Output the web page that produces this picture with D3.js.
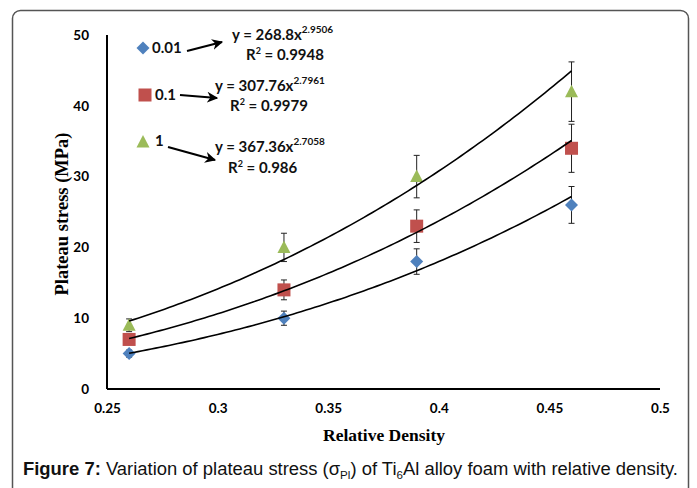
<!DOCTYPE html>
<html>
<head>
<meta charset="utf-8">
<script src="https://cdn.jsdelivr.net/npm/d3@7"></script>
<style>
  html, body { margin: 0; padding: 0; background: #fff; }
  svg { display: block; }
</style>
</head>
<body>
<svg id="chart" width="697" height="488"></svg>
<script>
// ---- data ----
const density = [0.26, 0.33, 0.39, 0.46];
const seriesNames = ["0.01", "0.1", "1"];
const stress001 = [5, 10, 18, 26];
const stress01 = [7, 14, 23, 34];
const stress1 = [9, 20, 30, 42];
const err001 = [0.5, 1.0, 1.8, 2.6];
const err01 = [0.7, 1.4, 2.3, 3.4];
const err1 = [0.9, 2.0, 3.0, 4.2];
const fitA = [268.8, 307.76, 367.36];
const fitB = [2.9506, 2.7961, 2.7058];
const fitAText = ["268.8", "307.76", "367.36"];
const fitBText = ["2.9506", "2.7961", "2.7058"];
const r2Text = ["0.9948", "0.9979", "0.986"];
const xTicks = [0.25, 0.3, 0.35, 0.4, 0.45, 0.5];
const xTickLabels = ["0.25", "0.3", "0.35", "0.4", "0.45", "0.5"];
const yTicks = [0, 10, 20, 30, 40, 50];
const colors = ["#4F81BD", "#C0504D", "#9BBB59"];

const values = [stress001, stress01, stress1];
const errors = [err001, err01, err1];

const svg = d3.select("#chart");
svg.append("rect").attr("width", 697).attr("height", 488).attr("fill", "#fff");

// outer frame
svg.append("rect")
  .attr("x", 12.5).attr("y", 10.5).attr("width", 676).attr("height", 520)
  .attr("rx", 8).attr("fill", "none").attr("stroke", "#555").attr("stroke-width", 1.5);

const x = d3.scaleLinear().domain([0.25, 0.5]).range([107, 660]);
const y = d3.scaleLinear().domain([0, 50]).range([389, 35]);

const tickFont = "Lato, 'Open Sans', sans-serif";

// axes
const xAxis = d3.axisBottom(x).tickValues(xTicks).tickFormat((d, i) => xTickLabels[i]).tickSize(0).tickPadding(14);
const gx = svg.append("g").attr("transform", "translate(0,389)").call(xAxis);
gx.select(".domain").attr("stroke", "#000").attr("stroke-width", 2).attr("d", "M107,0H660");
gx.selectAll("text").attr("font-family", tickFont).attr("font-weight", "bold").attr("font-size", 13.5).attr("fill", "#000");

const yAxis = d3.axisLeft(y).tickValues(yTicks).tickFormat(d3.format("d")).tickSize(0).tickPadding(18);
const gy = svg.append("g").attr("transform", "translate(107,0)").call(yAxis);
gy.select(".domain").attr("stroke", "#000").attr("stroke-width", 2).attr("d", "M0,35V389");
gy.selectAll("text").attr("font-family", tickFont).attr("font-weight", "bold").attr("font-size", 13.5).attr("fill", "#000");

// axis titles
svg.append("text")
  .attr("x", 384).attr("y", 441).attr("text-anchor", "middle")
  .attr("font-family", "'Liberation Serif', 'Times New Roman', serif").attr("font-weight", "bold").attr("font-size", 17.5)
  .text("Relative Density");
svg.append("text")
  .attr("transform", "translate(68,214) rotate(-90)").attr("text-anchor", "middle")
  .attr("font-family", "'Liberation Serif', 'Times New Roman', serif").attr("font-weight", "bold").attr("font-size", 18.5)
  .text("Plateau stress (MPa)");

const plot = svg.append("g");

// error bars
values.forEach((vals, s) => {
  const g = plot.append("g").attr("stroke", "#222").attr("stroke-width", 1);
  vals.forEach((v, i) => {
    const cx = x(density[i]);
    const e = errors[s][i];
    g.append("line").attr("x1", cx).attr("x2", cx).attr("y1", y(v - e)).attr("y2", y(v + e));
    g.append("line").attr("x1", cx - 3).attr("x2", cx + 3).attr("y1", y(v - e)).attr("y2", y(v - e));
    g.append("line").attr("x1", cx - 3).attr("x2", cx + 3).attr("y1", y(v + e)).attr("y2", y(v + e));
  });
});

// markers
function drawMarker(g, s, cx, cy) {
  if (s === 0) {
    g.append("path").attr("d", `M${cx},${cy - 6.5}L${cx + 6.5},${cy}L${cx},${cy + 6.5}L${cx - 6.5},${cy}Z`).attr("fill", colors[s]);
  } else if (s === 1) {
    g.append("rect").attr("x", cx - 6.5).attr("y", cy - 6.5).attr("width", 13).attr("height", 13).attr("fill", colors[s]);
  } else {
    g.append("path").attr("d", `M${cx},${cy - 7}L${cx + 6.5},${cy + 5.5}L${cx - 6.5},${cy + 5.5}Z`).attr("fill", colors[s]);
  }
}
values.forEach((vals, s) => {
  const g = plot.append("g");
  vals.forEach((v, i) => drawMarker(g, s, x(density[i]), y(v)));
});

// power trendlines (from displayed equations)
const line = d3.line().x(d => x(d[0])).y(d => y(d[1]));
fitA.forEach((a, s) => {
  const pts = d3.range(0, 101).map(k => {
    const xv = density[0] + (density[density.length - 1] - density[0]) * k / 100;
    return [xv, a * Math.pow(xv, fitB[s])];
  });
  plot.append("path").attr("d", line(pts)).attr("fill", "none").attr("stroke", "#000").attr("stroke-width", 1.6);
});

// legend + equations
const defs = svg.append("defs");
defs.append("marker").attr("id", "arr").attr("viewBox", "0 0 10 10").attr("refX", 9).attr("refY", 5)
  .attr("markerWidth", 5).attr("markerHeight", 5).attr("orient", "auto-start-reverse")
  .append("path").attr("d", "M0,0L10,5L0,10L3,5Z").attr("fill", "#000");

const legFont = "Lato, 'Open Sans', sans-serif";
const legendLayout = [
  { mx: 143, my: 48, tx: 152, ty: 53, a: [187, 51, 222, 42], ex: 232, ey: 40, rx: 246, ry: 60 },
  { mx: 145, my: 95, tx: 155, ty: 100, a: [180, 95, 217, 98], ex: 215, ey: 91, rx: 230, ry: 111 },
  { mx: 143, my: 142, tx: 155, ty: 146, a: [168, 147, 215, 160], ex: 215, ey: 152, rx: 228, ry: 173 }
];
legendLayout.forEach((L, s) => {
  const g = svg.append("g");
  drawMarker(g, s, L.mx, L.my);
  g.append("text").attr("x", L.tx).attr("y", L.ty).attr("font-family", legFont).attr("font-weight", "bold")
    .attr("font-size", 15).attr("fill", "#111").text(seriesNames[s]);
  g.append("line").attr("x1", L.a[0]).attr("y1", L.a[1]).attr("x2", L.a[2]).attr("y2", L.a[3])
    .attr("stroke", "#000").attr("stroke-width", 2.2).attr("marker-end", "url(#arr)");
  const eq = g.append("text").attr("x", L.ex).attr("y", L.ey).attr("font-family", legFont).attr("font-weight", "bold")
    .attr("font-size", 15).attr("fill", "#111");
  eq.append("tspan").text(`y = ${fitAText[s]}x`);
  eq.append("tspan").attr("dy", -7).attr("font-size", 10).text(fitBText[s]);
  const r = g.append("text").attr("x", L.rx).attr("y", L.ry).attr("font-family", legFont).attr("font-weight", "bold")
    .attr("font-size", 15).attr("fill", "#111");
  r.append("tspan").text("R");
  r.append("tspan").attr("dy", -6).attr("font-size", 9).text("2");
  r.append("tspan").attr("dy", 6).text(` = ${r2Text[s]}`);
});

// caption
const cap = svg.append("text").attr("x", 23).attr("y", 475)
  .attr("font-family", "'Liberation Sans', Arial, sans-serif").attr("font-size", 17.5).attr("fill", "#111")
  .attr("textLength", 655).attr("lengthAdjust", "spacingAndGlyphs");
cap.append("tspan").attr("font-weight", "bold").text("Figure 7:");
cap.append("tspan").text(" Variation of plateau stress (σ");
cap.append("tspan").attr("dy", 4).attr("font-size", 11).text("Pl");
cap.append("tspan").attr("dy", -4).text(") of Ti");
cap.append("tspan").attr("dy", 4).attr("font-size", 11).text("6");
cap.append("tspan").attr("dy", -4).text("Al alloy foam with relative density.");
</script>
</body>
</html>
